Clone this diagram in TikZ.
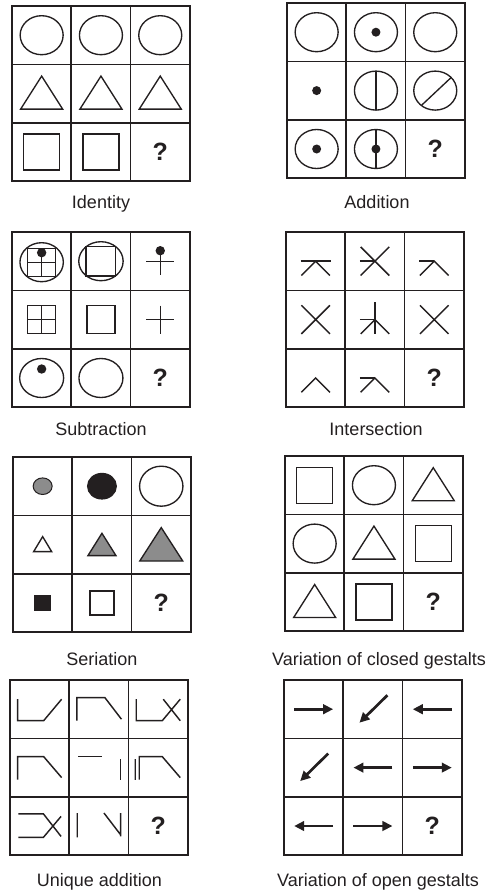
\documentclass[tikz,border=0pt]{standalone}
\usepackage{fontspec}
\setmainfont{Liberation Sans}
\usetikzlibrary{arrows.meta}
\definecolor{ink}{RGB}{35,31,32}
\definecolor{midgray}{RGB}{140,140,140}
\newcommand{\cw}{59.3}
\newcommand{\ch}{58.4}

\tikzset{
  gridline/.style={draw=ink, line width=1.7pt},
  figline/.style={draw=ink, line width=1.35pt},
  strokeline/.style={draw=ink, line width=1.45pt},
  blackdot/.style={fill=ink},
  qm/.style={font=\fontsize{25}{25}\selectfont\bfseries, text=ink, inner sep=0pt},
  caption/.style={font=\fontsize{18}{20}\selectfont, text=ink, anchor=base},
  arrowline/.style={draw=ink, line width=2.7pt, -{Triangle[length=10pt,width=9.5pt]}},
  cellpos/.style 2 args={shift={({(#1-0.5)*\cw},{(#2-0.5)*\ch})}},
}

% 3x3 frame of one matrix
\newcommand{\matgrid}{%
  \draw[gridline] (0,0) rectangle (3*\cw,3*\ch);
  \foreach \k in {1,2} {
    \draw[gridline] (\k*\cw,0) -- (\k*\cw,3*\ch);
    \draw[gridline] (0,\k*\ch) -- (3*\cw,\k*\ch);
  }}
\newcommand{\incell}[3]{\begin{scope}[cellpos={#1}{#2}]#3\end{scope}}
\newcommand{\ellshape}{\draw[figline] (0,0) ellipse (21.5 and 19.5);}
\newcommand{\trishape}{\draw[figline] (-21,15.5) -- (0,-17.5) -- (21,15.5) -- cycle;}
\newcommand{\sqshape}{\draw[figline] (-18,-18) rectangle (18,18);}
\newcommand{\caretmark}{\draw[strokeline] (-14.3,14.3) -- (0,0) -- (14.3,14.3);}
\newcommand{\crossmark}{\draw[strokeline] (-14.3,-14.3) -- (14.3,14.3) (-14.3,14.3) -- (14.3,-14.3);}

\begin{document}
\begin{tikzpicture}[x=1pt, y=-1pt]
  \useasboundingbox (0,0) rectangle (487,894);

  %--- Identity ---
  \begin{scope}[shift={(12,6)}]
    \matgrid
    \foreach \col in {1,2,3} {\incell{\col}{1}{\ellshape} \incell{\col}{2}{\trishape}}
    \incell{1}{3}{\sqshape}
    \incell{2}{3}{\sqshape}
    \incell{3}{3}{\node[qm] (qIdentity) at (0,0) {?};}
  \end{scope}
  \node[caption] (capIdentity) at (101,208) {Identity};

  %--- Addition ---
  \begin{scope}[shift={(287,3)}]
    \matgrid
    \incell{1}{1}{\ellshape}
    \incell{2}{1}{\ellshape \fill[blackdot] (0,0) circle (4.5);}
    \incell{3}{1}{\ellshape}
    \incell{1}{2}{\fill[blackdot] (0,0) circle (4.5);}
    \incell{2}{2}{\ellshape \draw[figline] (0,-19.5) -- (0,19.5);}
    \incell{3}{2}{\ellshape \draw[figline] (-13.5,14.5) -- (15.8,-13);}
    \incell{1}{3}{\ellshape \fill[blackdot] (0,0) circle (4.5);}
    \incell{2}{3}{\ellshape \draw[figline] (0,-19.5) -- (0,19.5); \fill[blackdot] (0,0) circle (4.5);}
    \incell{3}{3}{\node[qm] (qAddition) at (0,0) {?};}
  \end{scope}
  \node[caption] (capAddition) at (377,208) {Addition};

  %--- Subtraction ---
  \begin{scope}[shift={(12,232)}]
    \matgrid
    \incell{1}{1}{\draw[figline] (0,1) ellipse (21.7 and 19.5);
      \draw[figline] (-14,-13) rectangle (14,15) (0,-13) -- (0,15) (-14,1) -- (14,1);
      \fill[blackdot] (0,-8.5) circle (4.7);}
    \incell{2}{1}{\draw[figline] (0,0) ellipse (22.2 and 19.5);
      \draw[figline] (-14.8,-14.8) rectangle (14.8,14.8);}
    \incell{3}{1}{\draw[figline] (0,-10) -- (0,14) (-14,0) -- (14,0);
      \fill[blackdot] (0,-10.5) circle (4.7);}
    \incell{1}{2}{\draw[figline] (-14,-14) rectangle (14,14) (0,-14) -- (0,14) (-14,0) -- (14,0);}
    \incell{2}{2}{\draw[figline] (-14,-14) rectangle (14,14);}
    \incell{3}{2}{\draw[figline] (0,-14) -- (0,14) (-14,0) -- (14,0);}
    \incell{1}{3}{\draw[figline] (0,0) ellipse (22 and 19.5); \fill[blackdot] (0,-9) circle (4.7);}
    \incell{2}{3}{\draw[figline] (0,0) ellipse (22 and 19.5);}
    \incell{3}{3}{\node[qm] (qSubtraction) at (0,0) {?};}
  \end{scope}
  \node[caption] (capSubtraction) at (101,435) {Subtraction};

  %--- Intersection ---
  \begin{scope}[shift={(286,232)}]
    \matgrid
    \incell{1}{1}{\draw[strokeline] (-15,0) -- (15,0); \caretmark}
    \incell{2}{1}{\crossmark \draw[strokeline] (-15,0) -- (0,0);}
    \incell{3}{1}{\draw[strokeline] (-15,0) -- (0,0); \caretmark}
    \incell{1}{2}{\crossmark}
    \incell{2}{2}{\draw[strokeline] (0,-17.5) -- (0,14.3) (-15,0) -- (0,0); \caretmark}
    \incell{3}{2}{\crossmark}
    \incell{1}{3}{\caretmark}
    \incell{2}{3}{\draw[strokeline] (-15,0) -- (0,0); \caretmark}
    \incell{3}{3}{\node[qm] (qIntersection) at (0,0) {?};}
  \end{scope}
  \node[caption] (capIntersection) at (376,435) {Intersection};

  %--- Seriation ---
  \begin{scope}[shift={(13,457)}]
    \matgrid
    \incell{1}{1}{\filldraw[figline, fill=midgray, line width=1pt] (0,0) ellipse (9.5 and 8.3);}
    \incell{2}{1}{\filldraw[figline, fill=ink] (0,0) ellipse (14.3 and 12.7);}
    \incell{3}{1}{\draw[figline] (0,0) ellipse (21.7 and 20);}
    \incell{1}{2}{\draw[figline] (-9,7) -- (0,-8) -- (9,7) -- cycle;}
    \incell{2}{2}{\filldraw[figline, fill=midgray] (-14,11) -- (0,-11.3) -- (14,11) -- cycle;}
    \incell{3}{2}{\filldraw[figline, fill=midgray] (-21.5,16.4) -- (0,-17) -- (21.5,16.4) -- cycle;}
    \incell{1}{3}{\fill[blackdot] (-8.3,-8.3) rectangle (8.3,8.3);}
    \incell{2}{3}{\draw[figline] (-12,-12) rectangle (12,12);}
    \incell{3}{3}{\node[qm] (qSeriation) at (0,0) {?};}
  \end{scope}
  \node[caption] (capSeriation) at (102,665) {Seriation};

  %--- Variation of closed gestalts ---
  \begin{scope}[shift={(285,456)}]
    \matgrid
    \incell{1}{1}{\sqshape}
    \incell{2}{1}{\ellshape}
    \incell{3}{1}{\trishape}
    \incell{1}{2}{\ellshape}
    \incell{2}{2}{\trishape}
    \incell{3}{2}{\sqshape}
    \incell{1}{3}{\trishape}
    \incell{2}{3}{\sqshape}
    \incell{3}{3}{\node[qm] (qClosed) at (0,0) {?};}
  \end{scope}
  \node[caption] (capClosed) at (379,665) {Variation of closed gestalts};

  %--- Unique addition ---
  \begin{scope}[shift={(10,680)}]
    \matgrid
    \incell{1}{1}{\draw[strokeline] (-22,-10) -- (-22,11.5) -- (4,11.5) -- (22,-10);}
    \incell{2}{1}{\draw[strokeline] (-22,11.5) -- (-22,-11.5) -- (6,-11.5) -- (22.5,10);}
    \incell{3}{1}{\draw[strokeline] (-22,-10) -- (-22,11.5) -- (4,11.5) -- (22,-10) (5,-10) -- (22,11.5);}
    \incell{1}{2}{\draw[strokeline] (-22,12) -- (-22,-11) -- (4,-11) -- (22,10);}
    \incell{2}{2}{\draw[strokeline] (-20.7,-11) -- (3.3,-11) (21.7,-8.4) -- (21.7,12.2);}
    \incell{3}{2}{\draw[strokeline] (-19,12) -- (-19,-11) -- (4,-11) -- (22,10) (-23,-8.4) -- (-23,12.2);}
    \incell{1}{3}{\draw[strokeline] (-21.3,-12.2) -- (3.7,-12.2) -- (21.4,10.4) (-21.3,11.4) -- (3.7,11.4) -- (21.4,-9.6);}
    \incell{2}{3}{\draw[strokeline] (-21.7,-13) -- (-21.7,11.4) (5,-13) -- (21.7,8.8) (21.7,-13) -- (21.7,10.4);}
    \incell{3}{3}{\node[qm] (qUnique) at (0,0) {?};}
  \end{scope}
  \node[caption] (capUnique) at (99.5,886.5) {Unique addition};

  %--- Variation of open gestalts ---
  \begin{scope}[shift={(284,680)}]
    \matgrid
    \incell{1}{1}{\draw[arrowline] (-19.5,0) -- (19.5,0);}
    \incell{2}{1}{\draw[arrowline] (14.5,-14) -- (-13.5,13.5);}
    \incell{3}{1}{\draw[arrowline] (19.5,0) -- (-19.5,0);}
    \incell{1}{2}{\draw[arrowline] (14.5,-14) -- (-13.5,13.5);}
    \incell{2}{2}{\draw[arrowline] (19.5,0) -- (-19.5,0);}
    \incell{3}{2}{\draw[arrowline] (-19.5,0) -- (19.5,0);}
    \incell{1}{3}{\draw[arrowline] (19.5,0) -- (-19.5,0);}
    \incell{2}{3}{\draw[arrowline] (-19.5,0) -- (19.5,0);}
    \incell{3}{3}{\node[qm] (qOpen) at (0,0) {?};}
  \end{scope}
  \node[caption] (capOpen) at (378,886.5) {Variation of open gestalts};
\end{tikzpicture}
\end{document}
